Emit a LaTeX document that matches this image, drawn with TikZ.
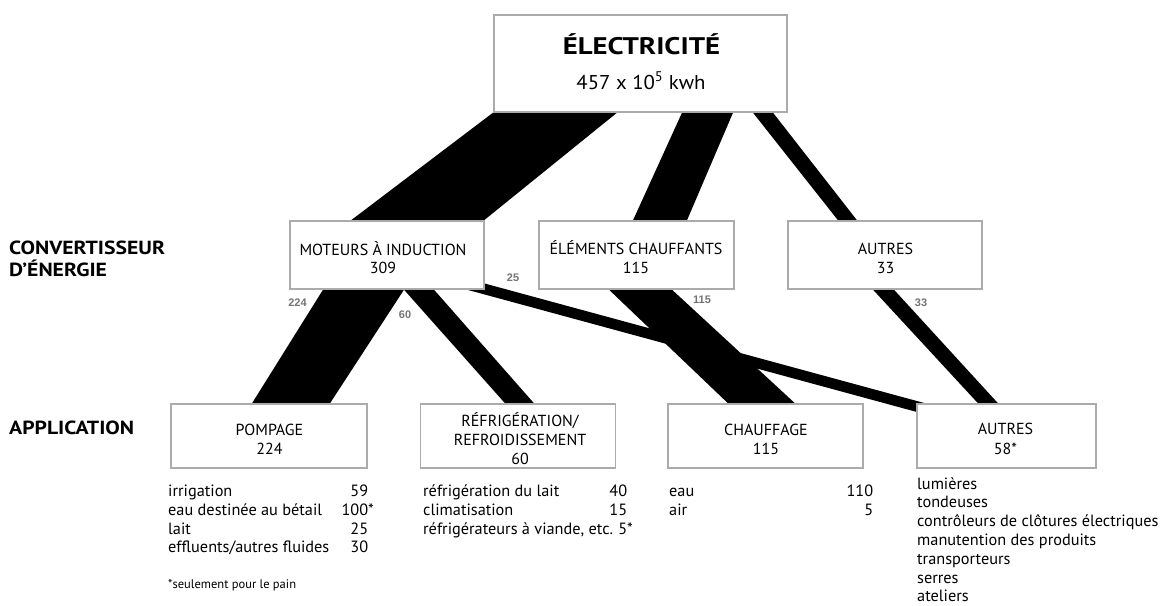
\documentclass[tikz,border=0pt]{standalone}
\usepackage{fontspec}
\setmainfont{PT Sans}
\newfontfamily\flowfont{Liberation Sans}
\newfontfamily\headfont[FakeStretch=1.14]{PT Sans Bold}
\newfontfamily\titlefont[FakeStretch=1.2]{PT Sans Bold}
\newfontfamily\subfont[FakeStretch=1.04]{PT Sans}
\usetikzlibrary{calc}
\pgfdeclarelayer{bg}
\pgfsetlayers{bg,main}
\begin{document}
\begin{tikzpicture}[x=1pt,y=-1pt,
  box/.style={draw=black!33, line width=1.4pt, fill=white, inner sep=0pt},
  flow/.style={fill=black},
  bt/.style={inner sep=0pt, anchor=base, font=\fontsize{16}{19}\selectfont},
  li/.style={inner sep=0pt, anchor=base west, font=\fontsize{16.3}{19}\selectfont},
  head/.style={inner sep=0pt, anchor=base west, font=\headfont\fontsize{19}{22}\selectfont},
  fl/.style={inner sep=0pt, text=black!55, font=\flowfont\bfseries\fontsize{11}{13}\selectfont}]
\useasboundingbox (0,0) rectangle (1161,605);

% boxes
\node[box, minimum width=293, minimum height=97] (elec) at (640.5,63.5) {};
\node[box, minimum width=194, minimum height=68] (mot)  at (387,255) {};
\node[box, minimum width=195, minimum height=68] (elem) at (636.5,255) {};
\node[box, minimum width=194, minimum height=68] (aut1) at (885,255) {};
\node[box, minimum width=196, minimum height=64] (pomp)  at (269,436) {};
\node[box, minimum width=195, minimum height=64] (refr)  at (518,436) {};
\node[box, minimum width=195, minimum height=64] (chauf) at (765.5,436) {};
\node[box, minimum width=179, minimum height=64] (aut2)  at (1006.5,436) {};

% flows
\begin{pgfonlayer}{bg}
\fill[flow] (elec.south -| 493,0) -- (elec.south -| 617,0) -- (mot.north -| 484,0) -- (mot.north -| 351,0) -- cycle;
\fill[flow] (elec.south -| 682,0) -- (elec.south -| 733,0) -- (elem.north -| 687,0) -- (elem.north -| 633,0) -- cycle;
\fill[flow] (elec.south -| 753,0) -- (elec.south -| 773,0) -- (aut1.north -| 857,0) -- (aut1.north -| 838,0) -- cycle;
\fill[flow] (mot.south -| 323,0) -- (mot.south -| 404,0) -- (pomp.north -| 330,0) -- (pomp.north -| 252,0) -- cycle;
\fill[flow] (mot.south -| 404,0) -- (mot.south -| 434,0) -- (refr.north -| 534,0) -- (refr.north -| 505,0) -- cycle;
\fill[flow] ($(mot.south east)+(-25,-13)$) -- ($(aut2.north west)+(18.6,2.6)$) -- ($(aut2.north west)+(18.6,13.6)$) -- ($(mot.south east)+(-25,-2)$) -- cycle;
\fill[flow] (elem.south -| 609,0) -- (elem.south -| 672,0) -- (chauf.north -| 795,0) -- (chauf.north -| 728,0) -- cycle;
\fill[flow] (aut1.south -| 873,0) -- (aut1.south -| 894,0) -- (aut2.north -| 998,0) -- (aut2.north -| 978,0) -- cycle;
\end{pgfonlayer}

% flow values
\node[fl] (v224) at (297.5,302.5) {224};
\node[fl] (v60)  at (405,314.5) {60};
\node[fl] (v25)  at (513,278) {25};
\node[fl] (v115) at (702,299.5) {115};
\node[fl] (v33)  at (921,302.5) {33};

% row headings
\node[head] (h1) at (9,254.3) {CONVERTISSEUR};
\node[head] (h2) at (9,276.7) {D’ÉNERGIE};
\node[head] (h3) at (9,434) {APPLICATION};

% box texts
\node[bt, font=\titlefont\fontsize{24}{28}\selectfont] (elecA) at (641.5,54) {ÉLECTRICITÉ};
\node[bt, font=\subfont\fontsize{20}{23}\selectfont] (elecB) at (641,89) {457 x 10\textsuperscript{5} kwh};
\node[bt] (motA) at (383,255) {MOTEURS À INDUCTION};
\node[bt] (motB) at (383,273) {309};
\node[bt] (elemA) at (636,254.5) {ÉLÉMENTS CHAUFFANTS};
\node[bt] (elemB) at (636,273) {115};
\node[bt] (aut1A) at (885.5,254.5) {AUTRES};
\node[bt] (aut1B) at (885.5,273) {33};
\node[bt] (pompA) at (269.5,435) {POMPAGE};
\node[bt] (pompB) at (269.5,454) {224};
\node[bt] (refrA) at (520,426.5) {RÉFRIGÉRATION/};
\node[bt] (refrB) at (520,445.5) {REFROIDISSEMENT};
\node[bt] (refrC) at (520,464) {60};
\node[bt] (chaufA) at (766,435) {CHAUFFAGE};
\node[bt] (chaufB) at (766,454) {115};
\node[bt] (aut2A) at (1005.5,434.5) {AUTRES};
\node[bt] (aut2B) at (1005.5,454) {58*};

% lists under the application boxes
\foreach \lbl/\val [count=\i] in {irrigation/59, eau destinée au bétail/100\rlap{*}, lait/25, {effluents/autres fluides}/30}
  \node[li] (lp\i) at (168,{496.5+18.8*(\i-1)}) {\hbox to 200pt{\lbl\hfill\val}};
\node[li, font=\fontsize{12.5}{15}\selectfont] (note) at (168,588.7) {*seulement pour le pain};
\foreach \lbl/\val [count=\i] in {réfrigération du lait/40, climatisation/15, {réfrigérateurs à viande, etc.}/{5\rlap{*}}}
  \node[li] (lr\i) at (423,{496.5+18.8*(\i-1)}) {\hbox to 204pt{\lbl\hfill\val}};
\foreach \lbl/\val [count=\i] in {eau/110, air/5}
  \node[li] (lc\i) at (669,{496.5+18.8*(\i-1)}) {\hbox to 204pt{\lbl\hfill\val}};
\foreach \lbl [count=\i] in {lumières, tondeuses, contrôleurs de clôtures électriques, manutention des produits, transporteurs, serres, ateliers}
  \node[li] (la\i) at (917,{489+18.8*(\i-1)}) {\lbl};
\end{tikzpicture}
\end{document}
